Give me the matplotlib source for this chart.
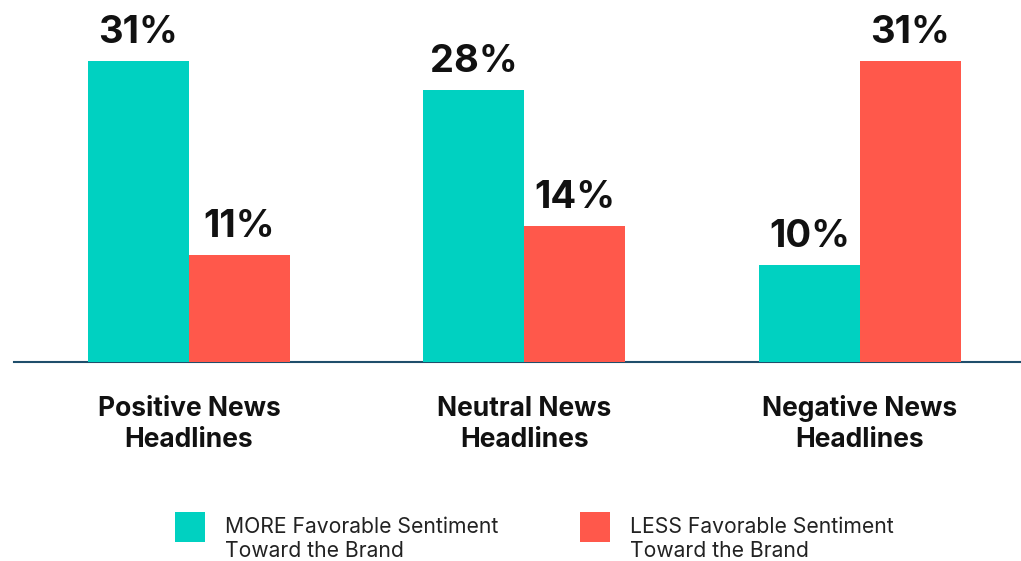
import matplotlib
matplotlib.use("Agg")
import matplotlib.pyplot as plt
from matplotlib.patches import Patch, Rectangle
from matplotlib.legend_handler import HandlerPatch
import numpy as np

plt.rcParams['font.family'] = ['Inter', 'DejaVu Sans']

categories = ["Positive News\nHeadlines", "Neutral News\nHeadlines", "Negative News\nHeadlines"]
series_names = ["MORE Favorable Sentiment\nToward the Brand", "LESS Favorable Sentiment\nToward the Brand"]
more_values = [31, 28, 10]
less_values = [11, 14, 31]
colors = ["#00D1C1", "#FF584B"]

W, H = 1021, 561
fig = plt.figure(figsize=(W / 100, H / 100), dpi=100)
ax = fig.add_axes([14 / W, 1 - 362 / H, 1 - 14 / W, 362 / H])

x = np.arange(len(categories))
bw = 0.301
b1 = ax.bar(x - bw / 2, more_values, bw, color=colors[0], zorder=3, label=series_names[0])
b2 = ax.bar(x + bw / 2, less_values, bw, color=colors[1], zorder=3, label=series_names[1])

for bars, vals in ((b1, more_values), (b2, less_values)):
    for rect, v in zip(bars, vals):
        ax.annotate(f"{v}%", (rect.get_x() + rect.get_width() / 2, rect.get_height()),
                    xytext=(0, 13), textcoords="offset points", ha="center", va="baseline",
                    fontsize=27.5, fontweight="bold", color="#111111")

ax.set_xlim(-0.5216, 2.48)
ax.set_ylim(0, 37.3)
for s in ("top", "right", "left"):
    ax.spines[s].set_visible(False)
ax.spines["bottom"].set_color("#1F4E6B")
ax.spines["bottom"].set_linewidth(1.5)
ax.spines["bottom"].set_zorder(2)
ax.set_yticks([])
ax.set_xticks(x)
ax.set_xticklabels([])
ax.tick_params(axis="x", length=0)
trans = ax.get_xaxis_transform()
for xi, cat in zip(x, categories):
    first, second = cat.split("\n")
    ax.text(xi, (362 - 416) / 362, first, transform=trans, ha="center", va="baseline",
            fontsize=19, fontweight="bold", color="#111111")
    ax.text(xi, (362 - 447) / 362, second, transform=trans, ha="center", va="baseline",
            fontsize=19, fontweight="bold", color="#111111")


def square_top(legend, orig_handle, xdescent, ydescent, width, height, fontsize):
    sq = 1.42 * fontsize
    return Rectangle((-xdescent, -ydescent + height - sq + 7.2), sq, sq)


handles = [Patch(facecolor=c, edgecolor="none") for c in colors]
leg = fig.legend(handles, series_names, loc="upper left", bbox_to_anchor=(175 / W, 1 - 517 / H),
                 ncol=2, frameon=False, fontsize=15.2, handlelength=1.42, handleheight=2.3,
                 handletextpad=0.95, columnspacing=3.85, borderpad=0, borderaxespad=0,
                 labelcolor="#222222", handler_map={Patch: HandlerPatch(patch_func=square_top)})
for t in leg.get_texts():
    t.set_linespacing(1.25)

fig.savefig("out.png", dpi=100, facecolor="white")
